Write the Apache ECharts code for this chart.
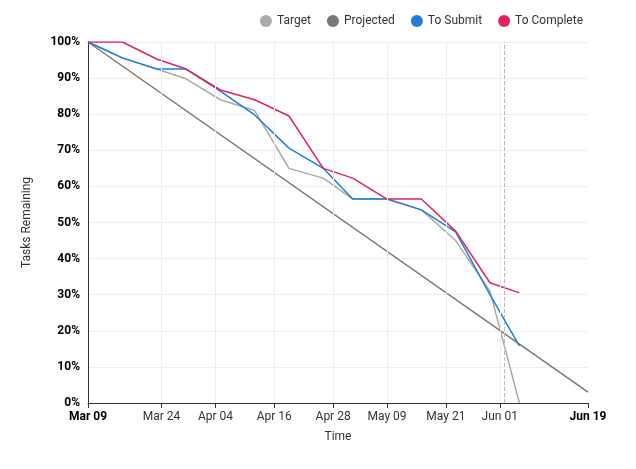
<!DOCTYPE html>
<html>
<head>
<meta charset="utf-8">
<script src="https://cdn.jsdelivr.net/npm/echarts@6/dist/echarts.min.js"></script>
<style>html,body{margin:0;padding:0;background:#fff}#c{width:636px;height:469px}</style>
</head>
<body>
<div id="c"></div>
<script>
// dates of each weekly sample
var dates = ['2025-03-09','2025-03-16','2025-03-23','2025-03-29','2025-04-05','2025-04-12','2025-04-19',
             '2025-04-26','2025-05-02','2025-05-09','2025-05-16','2025-05-23','2025-05-30','2025-06-05'];
var target     = [100, 95.6, 92.5, 89.8, 84, 81, 65, 62.3, 56.5, 56.5, 53.5, 45, 31, 0];
var toSubmit   = [100, 95.6, 92.5, 92.5, 86.4, 79.8, 70.6, 65, 56.5, 56.5, 53.5, 47.4, 30, 15.8];
var toComplete = [100, 100, 95.3, 92.5, 86.7, 84, 79.5, 65, 62.3, 56.5, 56.5, 47.6, 33.3, 30.5];
var projDates = ['2025-03-09','2025-06-19'];
var projected = [100, 3];
var tickDates = ['2025-03-09','2025-03-24','2025-04-04','2025-04-16','2025-04-28','2025-05-09','2025-05-21','2025-06-01','2025-06-19'];
var todayDate = '2025-06-02';

var t = function (s) { return Date.UTC(+s.slice(0, 4), +s.slice(5, 7) - 1, +s.slice(8, 10)); };
var months = ['Jan','Feb','Mar','Apr','May','Jun','Jul','Aug','Sep','Oct','Nov','Dec'];
var pair = function (ds, vs) { return ds.map(function (d, i) { return [t(d), vs[i]]; }); };
var ticks = tickDates.map(t);

var chart = echarts.init(document.getElementById('c'));
chart.setOption({
  animation: false,
  textStyle: { fontFamily: 'Roboto, Arial, sans-serif' },
  legend: {
    right: 48, top: 10, icon: 'circle', itemWidth: 12, itemHeight: 12, itemGap: 16,
    textStyle: { fontSize: 12, color: '#333' },
    data: ['Target', 'Projected', 'To Submit', 'To Complete']
  },
  grid: { left: 88, right: 48, top: 42, bottom: 66, containLabel: false },
  xAxis: {
    type: 'value', min: ticks[0], max: ticks[ticks.length - 1],
    name: 'Time', nameLocation: 'middle', nameGap: 28, nameTextStyle: { color: '#333', fontSize: 12 },
    axisLine: { lineStyle: { color: '#333', width: 1 } },
    axisTick: { show: true, customValues: ticks, lineStyle: { color: '#333' } },
    splitLine: { show: false },
    axisLabel: {
      customValues: ticks, color: '#333', fontSize: 12, showMinLabel: true, showMaxLabel: true,
      formatter: function (v) {
        var d = new Date(v), s = months[d.getUTCMonth()] + ' ' + ('0' + d.getUTCDate()).slice(-2);
        return (v === ticks[0] || v === ticks[ticks.length - 1]) ? '{b|' + s + '}' : s;
      },
      rich: { b: { fontWeight: 'bold', color: '#000', fontSize: 12 } }
    }
  },
  yAxis: {
    type: 'value', min: 0, max: 100, interval: 10,
    name: 'Tasks Remaining', nameLocation: 'middle', nameGap: 55, nameTextStyle: { color: '#333', fontSize: 12 },
    axisLine: { show: true, lineStyle: { color: '#333' } },
    axisTick: { show: false },
    axisLabel: { formatter: '{value}%', color: '#000', fontWeight: 'bold', fontSize: 12 },
    splitLine: { lineStyle: { color: '#eee' } }
  },
  series: [
    { name: 'Target', type: 'line', data: pair(dates, target), symbol: 'none',
      itemStyle: { color: '#aaaaaa' }, lineStyle: { width: 1.5, color: '#aaaaaa' } },
    { name: 'Projected', type: 'line', data: pair(projDates, projected), symbol: 'none',
      itemStyle: { color: '#777777' }, lineStyle: { width: 1.5, color: '#777777' } },
    { name: 'To Submit', type: 'line', data: pair(dates, toSubmit), symbol: 'none',
      itemStyle: { color: '#1f7fd6' }, lineStyle: { width: 1.5, color: '#1f7fd6' } },
    { name: 'To Complete', type: 'line', data: pair(dates, toComplete), symbol: 'none',
      itemStyle: { color: '#e0245e' }, lineStyle: { width: 1.5, color: '#e0245e' },
      markLine: { silent: true, symbol: 'none', label: { show: false },
        data: [{ xAxis: t(todayDate), lineStyle: { type: 'dashed', color: '#bbb', width: 1 } }]
          .concat(ticks.slice(1, -1).map(function (v) { return { xAxis: v, lineStyle: { type: 'solid', color: '#eee', width: 1 } }; }))
      } }
  ]
});
</script>
</body>
</html>
